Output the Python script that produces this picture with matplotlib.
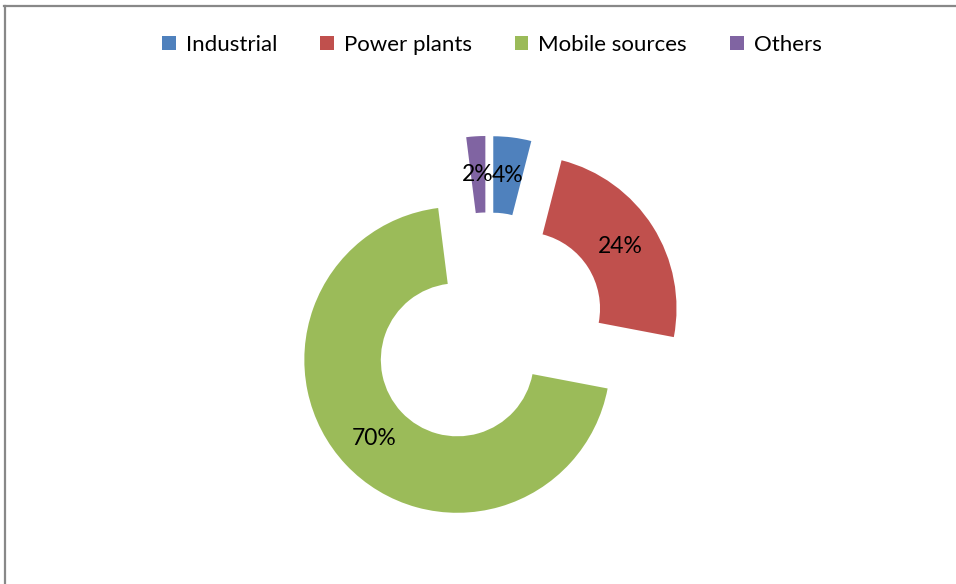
import matplotlib
matplotlib.use("Agg")
import matplotlib.pyplot as plt
from matplotlib.lines import Line2D
from matplotlib.patches import Patch

categories = ["Industrial", "Power plants", "Mobile sources", "Others"]
values = [4, 24, 70, 2]
colors = ["#4F81BD", "#C0504D", "#9BBB59", "#8064A2"]

plt.rcParams['font.family'] = ['Lato', 'DejaVu Sans']

W, H = 956, 584
fig = plt.figure(figsize=(W / 100, H / 100), dpi=100)
ax = fig.add_axes([0, 0, 1, 1])

R = 153
wedges, texts, autotexts = ax.pie(
    values, colors=colors, startangle=90, counterclock=False,
    radius=R, center=(488, H - 331), explode=[0.275 * R] * len(values),
    wedgeprops=dict(width=0.5 * R, linewidth=0),
    autopct=lambda p: f"{p:.0f}%", pctdistance=0.75,
    textprops=dict(fontsize=16.5, color="black"), frame=True)
ax.set_xlim(0, W)
ax.set_ylim(0, H)
ax.set_aspect('equal')
ax.axis('off')

handles = [Patch(facecolor=c, edgecolor='none') for c in colors]
fig.legend(handles, categories, loc='center', bbox_to_anchor=(492 / W, 1 - 45 / H),
           ncol=4, frameon=False, fontsize=16, handlelength=0.6, handleheight=0.6,
           handletextpad=0.45, columnspacing=1.95)

fig.add_artist(Line2D([4 / W, 1], [1 - 5.5 / H, 1 - 5.5 / H], transform=fig.transFigure,
                      color="#888888", lw=1.6))
fig.add_artist(Line2D([4.5 / W, 4.5 / W], [0, 1 - 5.5 / H], transform=fig.transFigure,
                      color="#888888", lw=1.6))

fig.savefig("out.png", dpi=100, facecolor="white")
